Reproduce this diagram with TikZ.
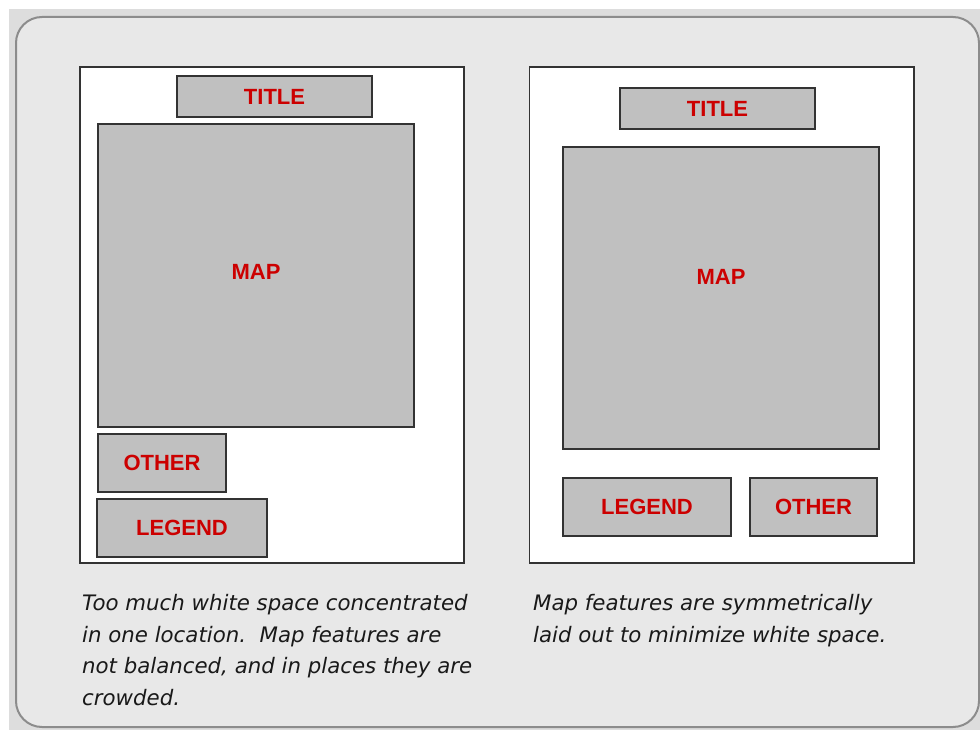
\documentclass[tikz,border=0pt]{standalone}
\usepackage{fontspec}
\setmainfont{Liberation Sans}
\newfontfamily\notefont{DejaVu Sans}
\usepackage{xcolor}
\definecolor{pagegray}{RGB}{221, 221, 221}
\definecolor{panelgray}{RGB}{232, 232, 232}
\definecolor{rimgray}{RGB}{140, 140, 140}
\definecolor{boxgray}{RGB}{192, 192, 192}
\definecolor{edgegray}{RGB}{51, 51, 51}
\definecolor{labelred}{RGB}{204, 0, 0}
\usetikzlibrary{positioning}

\begin{document}
\begin{tikzpicture}[
    x=1pt, y=-1pt,
    sheet/.style={draw=edgegray, line width=1.4pt, fill=white, minimum width=384pt, minimum height=496pt, inner sep=0pt},
    part/.style={draw=edgegray, line width=1.4pt, fill=boxgray, inner sep=0pt, font=\fontsize{22}{24}\selectfont\bfseries, text=labelred},
    maptext/.style={font=\fontsize{22}{24}\selectfont\bfseries, text=labelred, inner sep=0pt},
    note/.style={anchor=north west, align=left, inner sep=0pt, font=\notefont\itshape\fontsize{21.3}{31.7}\selectfont, text=black!90}
]
\useasboundingbox (0,0) rectangle (980,730);
\fill[pagegray] (9,9) rectangle (980,730);
\draw[rimgray, line width=2pt, fill=panelgray, rounded corners=26pt] (16,17) rectangle (979,727);

% Layout with white space in one place
\node[sheet] (leftsheet) at (272,315) {};
\node[part, minimum width=195pt, minimum height=41pt] (lefttitle) at (274.5,96.5) {TITLE};
\node[part, minimum width=316pt, minimum height=303pt,
      label={[maptext, yshift=4pt]center:MAP}] (leftmap) at (256,275.5) {};
\node[part, minimum width=128pt, minimum height=58pt] (leftother) at (162,463) {OTHER};
\node[part, minimum width=170pt, minimum height=58pt] (leftlegend) at (182,528) {LEGEND};

% Balanced layout
\node[sheet, right=64pt of leftsheet] (rightsheet) {};
\node[part, minimum width=195pt, minimum height=41pt] (righttitle) at (717.5,108.5) {TITLE};
\node[part, minimum width=316pt, minimum height=302pt,
      label={[maptext, yshift=21pt]center:MAP}] (rightmap) at (721,298) {};
\node[part, minimum width=168pt, minimum height=58pt] (rightlegend) at (647,507) {LEGEND};
\node[part, minimum width=127pt, minimum height=58pt] (rightother) at (813.5,507) {OTHER};
% right edge of the sheet drawn again on top
\draw[edgegray, line width=1.4pt] (rightsheet.north east) -- (rightsheet.south east);

% Captions
\node[note] (leftnote) at (82,594) {Too much white space concentrated\\in one location.\ \ Map features are\\not balanced, and in places they are\\crowded.};
\node[note] (rightnote) at (533,594) {Map features are symmetrically\\laid out to minimize white space.};

\end{tikzpicture}
\end{document}
